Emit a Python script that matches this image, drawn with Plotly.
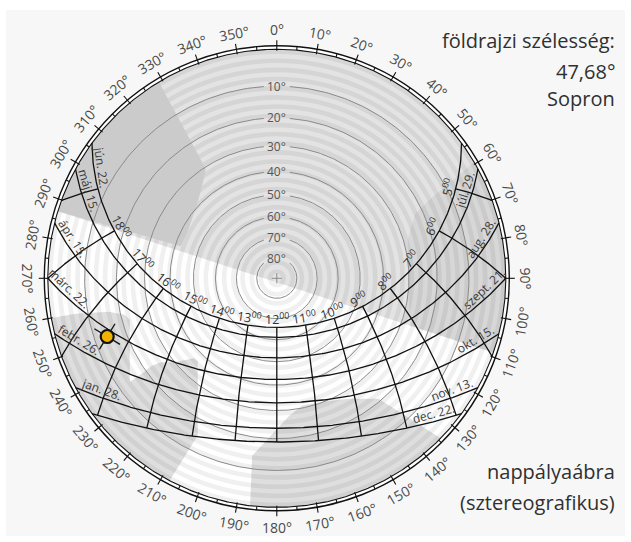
import numpy as np
import plotly.graph_objects as go

# ---------------------------------------------------------------- data
latitude = 47.68
place_name = "Sopron"

# day paths: solar declination (deg) with the date written on the setting / rising end
day_declination = [23.44, 18.75, 9.38, 0.0, -9.38, -18.75, -23.44]
day_label_west = ["jún. 22.", "máj. 15.", "ápr. 15.", "márc. 22.", "febr. 26.", "jan. 28.", ""]
day_label_east = ["", "júl. 29.", "aug. 28.", "szept. 21.", "okt. 15.", "nov. 13.", "dec. 22."]

# hour lines (local solar time) and the ones that get a label
hour_lines = [5, 6, 7, 8, 9, 10, 11, 12, 13, 14, 15, 16, 17, 18, 19]
hour_labels = [5, 6, 7, 8, 9, 10, 11, 12, 13, 14, 15, 16, 17, 18]

altitude_rings = [10, 20, 30, 40, 50, 60, 70, 80]
azimuth_ticks = list(range(0, 360, 10))
azimuth_minor = list(range(5, 360, 10))

# current sun position: declination (deg) and local solar time (h)
sun_declination = -2.0
sun_hour = 16.45

# horizon / obstruction outlines as (azimuth deg, altitude deg)
north_az = [109, -73, 197]
north_alt = [0, 0, 88]

northwest_az = [-73, -31, -33, -36.2, -45.7, -61.9, -71.5]
northwest_alt = [0, 0, 30.6, 33.3, 38.6, 42.5, 42.3]

east_az = [59.5, 62.6, 65.1, 72.9, 90.9, 109.6, 109]
east_alt = [0, 15.7, 22.7, 28.1, 30.3, 26.6, 0]

southwest_az = [260, 260, 258.7, 256.5, 254.3, 234.8, 234.7, 235.0, 234.0, 230.7, 226.0, 223.6, 206.7, 207.9]
southwest_alt = [0, 6.5, 16.4, 21.3, 22.6, 13.7, 18.2, 22.5, 26.1, 29.9, 36.6, 36.8, 15.0, 0]

south_az = [186.7, 187.9, 174.7, 168.6, 159.8, 149.1, 139.8, 136.2, 134.3]
south_alt = [0, 13.9, 27.9, 30.9, 30.3, 27.0, 20.9, 8.6, 0]

# ---------------------------------------------------------------- geometry
W, H = 631, 542
CX, CY, RPX = 276.8, 278.3, 229.0      # diagram centre and horizon radius on the page
PX = 1.0 / RPX                          # one pixel in data units
PHI = np.radians(latitude)


def project(az, alt):
    """Stereographic projection from the zenith; horizon = unit circle."""
    az = np.radians(np.asarray(az, float))
    alt = np.radians(np.asarray(alt, float))
    r = np.tan((np.pi / 2 - alt) / 2)
    return r * np.sin(az), r * np.cos(az)


def sun_xy(decl, hour):
    d = np.radians(decl)
    h = np.radians(15.0 * (np.asarray(hour, float) - 12.0))
    east = -np.cos(d) * np.sin(h)
    north = np.sin(d) * np.cos(PHI) - np.cos(d) * np.cos(h) * np.sin(PHI)
    up = np.sin(d) * np.sin(PHI) + np.cos(d) * np.cos(h) * np.cos(PHI)
    return east / (1 + up), north / (1 + up)


def outline(az, alt):
    pa, ph = [], []
    n = len(az)
    for i in range(n):
        a0, h0 = az[i], alt[i]
        a1, h1 = az[(i + 1) % n], alt[(i + 1) % n]
        if h0 == 0 and h1 == 0:
            k = max(2, int(abs(a1 - a0)))
            seg = np.linspace(a0, a1, k, endpoint=False)
            pa += list(seg)
            ph += [0.0] * len(seg)
        else:
            pa.append(a0)
            ph.append(h0)
    x, y = project(pa, ph)
    return np.append(x, x[0]), np.append(y, y[0])


def tangent(decl, hour):
    x0, y0 = sun_xy(decl, hour - 0.01)
    x1, y1 = sun_xy(decl, hour + 0.01)
    t = np.array([x1 - x0, y1 - y0])
    t /= np.hypot(*t)
    if t[0] < 0:
        t = -t
    return t


fig = go.Figure()

# ---------------------------------------------------------------- background
shapes = [dict(type="rect", xref="paper", yref="paper", x0=6 / W, x1=625 / W,
               y0=1 - 536 / H, y1=1 - 10 / H, fillcolor="#f7f7f7", line_width=0, layer="below")]
r_out = 1 + 3.5 * PX
shapes.append(dict(type="circle", xref="x", yref="y", x0=-r_out, x1=r_out, y0=-r_out, y1=r_out,
                   fillcolor="#ffffff", line=dict(color="#111111", width=1.4), layer="below"))
n_stripes = 50
for k in range(n_stripes):
    r = 1 - k / n_stripes
    shapes.append(dict(type="circle", xref="x", yref="y", x0=-r, x1=r, y0=-r, y1=r,
                       fillcolor="#f0f0f0" if k % 2 == 0 else "#ffffff", line_width=0, layer="below"))


def add_area(az, alt, color):
    x, y = outline(az, alt)
    fig.add_trace(go.Scatter(x=x, y=y, mode="lines", fill="toself", fillcolor=color,
                             line=dict(width=0, color="rgba(0,0,0,0)"), hoverinfo="skip"))


add_area(north_az, north_alt, "rgba(0,0,0,0.11)")
add_area(east_az, east_alt, "rgba(0,0,0,0.05)")
add_area(northwest_az, northwest_alt, "#cbcbcb")
add_area(southwest_az, southwest_alt, "rgba(0,0,0,0.13)")
add_area(south_az, south_alt, "rgba(0,0,0,0.13)")

# ---------------------------------------------------------------- altitude rings
xs, ys = [], []
for a in altitude_rings:
    r = np.tan(np.radians(90 - a) / 2)
    gap = np.arcsin(min(1.0, 13 * PX / r))
    th = np.linspace(gap, 2 * np.pi - gap, 360)
    xs += list(r * np.sin(th)) + [None]
    ys += list(r * np.cos(th)) + [None]
fig.add_trace(go.Scatter(x=xs, y=ys, mode="lines", line=dict(color="#8a8a8a", width=1), hoverinfo="skip"))

# zenith cross
c = 5 * PX
fig.add_trace(go.Scatter(x=[-c, c, None, 0, 0], y=[0, 0, None, -c, c], mode="lines",
                         line=dict(color="#8a8a8a", width=1), hoverinfo="skip"))

# ---------------------------------------------------------------- day paths
xs, ys = [], []
for d in day_declination:
    h0 = np.degrees(np.arccos(-np.tan(PHI) * np.tan(np.radians(d)))) / 15
    hrs = np.linspace(12 - h0, 12 + h0, 400)
    x, y = sun_xy(d, hrs)
    xs += list(x) + [None]
    ys += list(y) + [None]
fig.add_trace(go.Scatter(x=xs, y=ys, mode="lines", line=dict(color="#111111", width=1.3), hoverinfo="skip"))

# ---------------------------------------------------------------- hour lines
dmax = max(day_declination)
dmin = min(day_declination)
xs, ys = [], []
for hr in hour_lines:
    hang = np.radians(15 * (hr - 12))
    d0 = np.degrees(np.arctan(-np.cos(hang) / np.tan(PHI)))
    lo = max(dmin, d0)
    decs = np.linspace(lo, dmax, 200)
    x, y = sun_xy(decs, hr)
    xs += list(x) + [None]
    ys += list(y) + [None]
fig.add_trace(go.Scatter(x=xs, y=ys, mode="lines", line=dict(color="#111111", width=1.3), hoverinfo="skip"))

# ---------------------------------------------------------------- horizon scale
xs, ys = [], []
for a in azimuth_minor:
    t = np.radians(a)
    xs += [np.sin(t), r_out * np.sin(t), None]
    ys += [np.cos(t), r_out * np.cos(t), None]
for a in azimuth_ticks:
    t = np.radians(a)
    r0, r1 = 1 - 1.5 * PX, 1 + 9 * PX
    xs += [r0 * np.sin(t), r1 * np.sin(t), None]
    ys += [r0 * np.cos(t), r1 * np.cos(t), None]
fig.add_trace(go.Scatter(x=xs, y=ys, mode="lines", line=dict(color="#111111", width=1.1), hoverinfo="skip"))
th = np.linspace(0, 2 * np.pi, 721)
fig.add_trace(go.Scatter(x=np.sin(th), y=np.cos(th), mode="lines",
                         line=dict(color="#111111", width=1.1), hoverinfo="skip"))

# ---------------------------------------------------------------- sun marker
sx, sy = sun_xy(sun_declination, sun_hour)
ta = tangent(sun_declination, sun_hour)
xa, ya = sun_xy(sun_declination - 0.2, sun_hour)
xb, yb = sun_xy(sun_declination + 0.2, sun_hour)
tb = np.array([xb - xa, yb - ya])
tb /= np.hypot(*tb)
arm = 15 * PX
fig.add_trace(go.Scatter(
    x=[sx - arm * ta[0], sx + arm * ta[0], None, sx - arm * tb[0], sx + arm * tb[0]],
    y=[sy - arm * ta[1], sy + arm * ta[1], None, sy - arm * tb[1], sy + arm * tb[1]],
    mode="lines", line=dict(color="#111111", width=1.3), hoverinfo="skip"))
fig.add_trace(go.Scatter(x=[sx], y=[sy], mode="markers",
                         marker=dict(size=13, color="#f2b200", line=dict(color="#111111", width=2.2)),
                         hoverinfo="skip"))

# ---------------------------------------------------------------- texts
FONT = "Open Sans, sans-serif"
ann = []

# azimuth labels around the horizon
r_lab = 1 + 20 * PX
for a in azimuth_ticks:
    t = np.radians(a)
    if a <= 90:
        rot = a
    elif a <= 270:
        rot = a - 180
    else:
        rot = a - 360
    ann.append(dict(x=r_lab * np.sin(t), y=r_lab * np.cos(t), xref="x", yref="y", text=f"{a}°",
                    showarrow=False, textangle=rot, xanchor="center", yanchor="middle",
                    font=dict(family=FONT, size=14, color="#4a4a4a")))

# altitude ring labels
for a in altitude_rings:
    r = np.tan(np.radians(90 - a) / 2)
    ann.append(dict(x=0, y=r, xref="x", yref="y", text=f"{a}°", showarrow=False,
                    xanchor="center", yanchor="middle", font=dict(family=FONT, size=12, color="#555555")))

# hour labels along the summer solstice path
for hr in hour_labels:
    px_, py_ = sun_xy(dmax, hr)
    t = tangent(dmax, hr)
    n = np.array([-t[1], t[0]])
    ang = -np.degrees(np.arctan2(t[1], t[0]))
    ann.append(dict(x=px_ + n[0] * 8 * PX, y=py_ + n[1] * 8 * PX, xref="x", yref="y",
                    text=f"{hr}<sup>00</sup>", showarrow=False, textangle=ang,
                    xanchor="center", yanchor="middle", font=dict(family=FONT, size=12.5, color="#333333")))

# date labels at the ends of the day paths
label_alt = np.radians(4.0)
for d, lw, le in zip(day_declination, day_label_west, day_label_east):
    dr = np.radians(d)
    cos_h = (np.sin(label_alt) - np.sin(PHI) * np.sin(dr)) / (np.cos(PHI) * np.cos(dr))
    hh = np.degrees(np.arccos(cos_h)) / 15
    for text, hour in ((lw, 12 + hh), (le, 12 - hh)):
        if not text:
            continue
        px_, py_ = sun_xy(d, hour)
        t = tangent(d, hour)
        n = np.array([-t[1], t[0]])
        ang = -np.degrees(np.arctan2(t[1], t[0]))
        ann.append(dict(x=px_ + n[0] * 8 * PX, y=py_ + n[1] * 8 * PX, xref="x", yref="y",
                        text=text, showarrow=False, textangle=ang, xanchor="center", yanchor="middle",
                        font=dict(family=FONT, size=12, color="#3a3a3a")))

# headings
lat_text = f"{latitude:.2f}°".replace(".", ",")
for text, ypx in (("földrajzi szélesség:", 40), (lat_text, 71), (place_name, 99),
                  ("nappályaábra", 471), ("(sztereografikus)", 502)):
    ann.append(dict(x=617 / W, y=1 - ypx / H, xref="paper", yref="paper", text=text, showarrow=False,
                    xanchor="right", yanchor="middle", font=dict(family=FONT, size=20, color="#303030")))

fig.update_layout(
    width=W, height=H, margin=dict(l=0, r=0, t=0, b=0),
    paper_bgcolor="#ffffff", plot_bgcolor="rgba(0,0,0,0)",
    showlegend=False, shapes=shapes, annotations=ann,
    xaxis=dict(range=[-CX / RPX, (W - CX) / RPX], visible=False, fixedrange=True),
    yaxis=dict(range=[-(H - CY) / RPX, CY / RPX], visible=False, fixedrange=True),
)

fig.write_html("out.html")
